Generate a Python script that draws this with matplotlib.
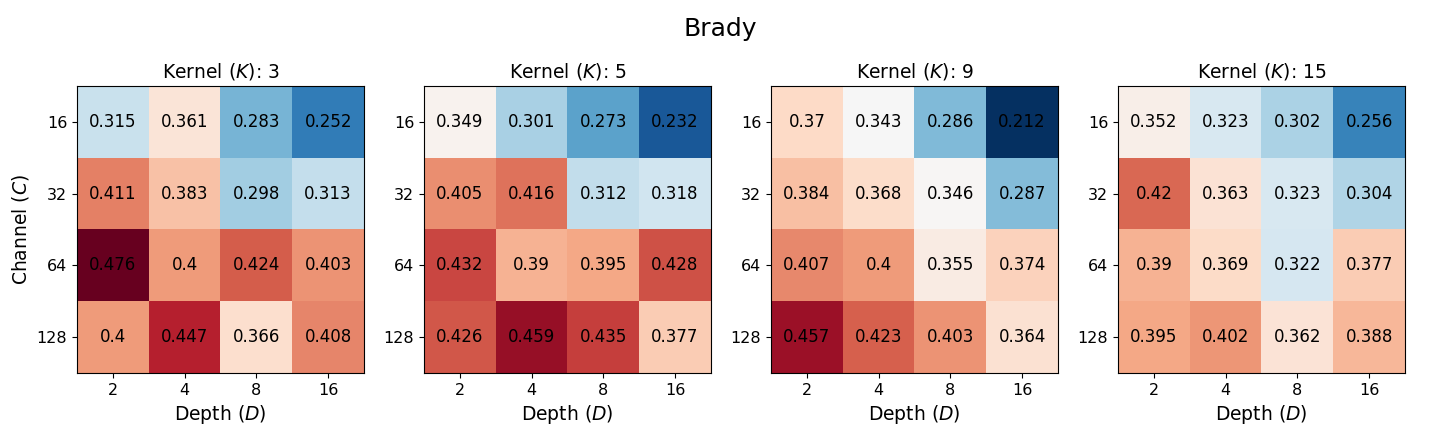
import numpy as np
import matplotlib
matplotlib.use("Agg")
import matplotlib.pyplot as plt

kernels = [3, 5, 9, 15]
channels = ["16", "32", "64", "128"]
depths = ["2", "4", "8", "16"]

k3 = [[0.315, 0.361, 0.283, 0.252],
      [0.411, 0.383, 0.298, 0.313],
      [0.476, 0.4, 0.424, 0.403],
      [0.4, 0.447, 0.366, 0.408]]
k5 = [[0.349, 0.301, 0.273, 0.232],
      [0.405, 0.416, 0.312, 0.318],
      [0.432, 0.39, 0.395, 0.428],
      [0.426, 0.459, 0.435, 0.377]]
k9 = [[0.37, 0.343, 0.286, 0.212],
      [0.384, 0.368, 0.346, 0.287],
      [0.407, 0.4, 0.355, 0.374],
      [0.457, 0.423, 0.403, 0.364]]
k15 = [[0.352, 0.323, 0.302, 0.256],
       [0.42, 0.363, 0.323, 0.304],
       [0.39, 0.369, 0.322, 0.377],
       [0.395, 0.402, 0.362, 0.388]]

grids = [k3, k5, k9, k15]
vmin = min(np.min(g) for g in grids)
vmax = max(np.max(g) for g in grids)

fig = plt.figure(figsize=(14.4, 4.32), dpi=100)
fig.suptitle("Brady", fontsize=18, y=0.96)

lefts = [0.0535, 0.2944, 0.5354, 0.7764]
for i, (k, g) in enumerate(zip(kernels, grids)):
    ax = fig.add_axes([lefts[i], 0.1366, 0.1993, 0.664])
    data = np.array(g)
    ax.imshow(data, cmap="RdBu_r", vmin=vmin, vmax=vmax, aspect="auto")
    for r in range(data.shape[0]):
        for c in range(data.shape[1]):
            ax.text(c, r, f"{data[r, c]:g}", ha="center", va="center",
                    color="black", fontsize=12)
    ax.set_xticks(range(len(depths)))
    ax.set_xticklabels(depths, fontsize=11.5)
    ax.set_yticks(range(len(channels)))
    ax.set_yticklabels(channels, fontsize=11.5)
    ax.set_xlabel("Depth ($D$)", fontsize=13.5)
    if i == 0:
        ax.set_ylabel("Channel ($C$)", fontsize=13.5)
    ax.set_title(f"Kernel ($K$): {k}", fontsize=13.5)

fig.savefig("out.png", dpi=100)
